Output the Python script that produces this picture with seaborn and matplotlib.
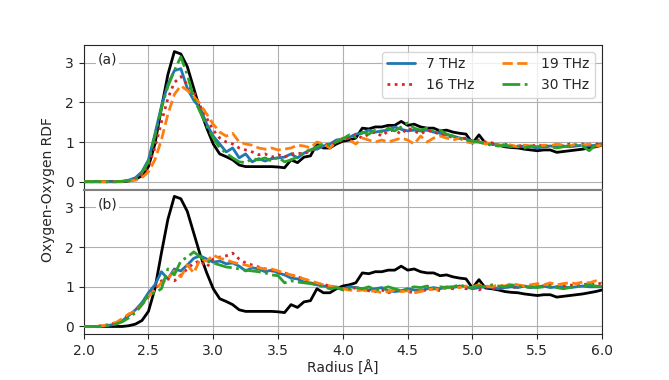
import numpy as np
import pandas as pd
import seaborn as sns
import matplotlib.pyplot as plt

# Radius grid (Angstrom), 0.05 step
radius = np.linspace(2.0, 6.0, 81)

series_names = ["7 THz", "16 THz", "19 THz", "30 THz"]

# reference RDF (black line, same in both panels)
rdf_ref = [
    0, 0, 0, 0, 0, 0, 0, 0.02, 0.06, 0.15,
    0.38, 0.95, 1.85, 2.7, 3.28, 3.22, 2.9, 2.35, 1.8, 1.35,
    0.95, 0.7, 0.63, 0.55, 0.42, 0.38, 0.38, 0.38, 0.38, 0.38,
    0.37, 0.35, 0.55, 0.48, 0.62, 0.65, 0.95, 0.85, 0.85, 0.95,
    1.02, 1.05, 1.1, 1.35, 1.33, 1.38, 1.38, 1.42, 1.42, 1.52,
    1.42, 1.45, 1.38, 1.35, 1.35, 1.28, 1.3, 1.25, 1.22, 1.2,
    0.97, 1.18, 0.97, 0.95, 0.92, 0.88, 0.86, 0.85, 0.82, 0.8,
    0.78, 0.8, 0.8, 0.74, 0.76, 0.78, 0.8, 0.82, 0.85, 0.88,
    0.92,
]

# panel (a)
a_7 = [
    0, 0, 0, 0, 0, 0, 0.01, 0.04, 0.1, 0.25,
    0.55, 1.2, 1.9, 2.45, 2.8, 2.85, 2.35, 2.05, 1.85, 1.45,
    1.15, 0.95, 0.75, 0.85, 0.6, 0.7, 0.5, 0.58, 0.52, 0.58,
    0.6, 0.62, 0.7, 0.6, 0.72, 0.8, 0.82, 0.9, 0.95, 1.05,
    1.08, 1.12, 1.2, 1.22, 1.3, 1.25, 1.28, 1.3, 1.38, 1.32,
    1.28, 1.3, 1.28, 1.3, 1.25, 1.22, 1.18, 1.15, 1.1, 1.08,
    1.02, 1.0, 0.98, 0.95, 0.92, 0.9, 0.9, 0.88, 0.9, 0.88,
    0.85, 0.88, 0.9, 0.88, 0.9, 0.88, 0.9, 0.92, 0.9, 0.92,
    0.95,
]
a_16 = [
    0, 0, 0, 0, 0, 0, 0.01, 0.03, 0.07, 0.18,
    0.4, 0.85, 1.5, 2.1, 2.5, 2.65, 2.45, 2.25, 1.9, 1.6,
    1.3, 1.1, 1.0, 0.95, 0.85, 0.8, 0.75, 0.68, 0.7, 0.62,
    0.68, 0.62, 0.7, 0.72, 0.7, 0.78, 0.85, 0.92, 0.95, 0.98,
    1.05, 1.1, 1.18, 1.1, 1.2, 1.25, 1.15, 1.28, 1.3, 1.2,
    1.35, 1.28, 1.2, 1.3, 1.25, 1.2, 1.15, 1.12, 1.08, 1.1,
    1.02, 1.05, 1.0, 0.98, 0.92, 0.95, 0.88, 0.9, 0.92, 0.88,
    0.95, 0.88, 0.9, 0.92, 0.9, 0.95, 0.92, 0.95, 0.92, 0.95,
    0.95,
]
a_19 = [
    0, 0, 0, 0, 0, 0, 0, 0.02, 0.04, 0.1,
    0.25, 0.55, 1.05, 1.7, 2.2, 2.42, 2.3, 2.15, 1.95, 1.7,
    1.45, 1.25, 1.15, 1.22, 1.0, 0.95, 0.92, 0.85, 0.82, 0.85,
    0.8, 0.82, 0.85, 0.92, 0.9, 0.85, 1.0, 0.95, 0.85, 1.0,
    1.1, 1.05, 0.95, 1.1, 1.05, 1.0, 1.05, 1.0, 1.05, 1.1,
    1.05, 0.95, 1.15, 1.0, 1.1, 1.15, 1.1, 1.05, 1.1, 1.0,
    0.98, 1.02, 0.95, 0.98, 0.9, 0.95, 0.92, 0.88, 0.92, 0.9,
    0.88, 0.92, 0.9, 0.95, 0.92, 0.9, 0.95, 0.92, 0.95, 0.9,
    0.92,
]
a_30 = [
    0, 0, 0, 0, 0, 0, 0.01, 0.03, 0.08, 0.22,
    0.5, 1.15, 1.85, 2.4, 2.8, 3.15, 2.7, 2.1, 1.75, 1.4,
    1.1, 0.85, 0.72, 0.6, 0.5, 0.48, 0.58, 0.55, 0.6, 0.52,
    0.62, 0.5, 0.55, 0.62, 0.75, 0.8, 0.88, 0.95, 0.92, 1.0,
    1.08, 1.18, 1.12, 1.25, 1.2, 1.3, 1.25, 1.35, 1.28, 1.38,
    1.48, 1.35, 1.3, 1.35, 1.28, 1.3, 1.2, 1.15, 1.1, 1.05,
    1.02, 1.0, 0.95, 0.92, 0.9, 0.92, 0.88, 0.9, 0.85, 0.9,
    0.88, 0.9, 0.88, 0.85, 0.88, 0.9, 0.92, 0.9, 0.78, 0.92,
    0.95,
]

# panel (b)
b_7 = [
    0, 0, 0, 0.01, 0.03, 0.07, 0.15, 0.28, 0.42, 0.6,
    0.85, 1.05, 1.38, 1.2, 1.45, 1.4, 1.55, 1.72, 1.78, 1.7,
    1.62, 1.65, 1.58, 1.6, 1.52, 1.4, 1.48, 1.45, 1.38, 1.42,
    1.35, 1.3, 1.22, 1.2, 1.12, 1.1, 1.05, 1.02, 1.0, 0.98,
    0.95, 1.0, 0.98, 0.95, 0.92, 0.95, 0.98, 0.9, 0.88, 0.9,
    0.95, 0.92, 0.9, 0.95, 0.98, 0.95, 1.0, 0.98, 1.02, 1.0,
    0.95, 0.98, 1.0, 0.98, 0.95, 0.98, 1.0, 0.98, 1.02, 0.98,
    1.0, 1.02, 0.98, 1.0, 1.0, 0.98, 1.0, 1.02, 1.0, 1.0,
    1.0,
]
b_16 = [
    0, 0, 0, 0.02, 0.05, 0.1, 0.18, 0.28, 0.4, 0.55,
    0.75, 0.95, 1.15, 1.2, 1.15, 1.3, 1.45, 1.6, 1.65, 1.5,
    1.7, 1.75, 1.78, 1.85, 1.7, 1.6, 1.55, 1.5, 1.45, 1.4,
    1.38, 1.35, 1.3, 1.25, 1.2, 1.1, 1.05, 1.08, 1.0, 0.98,
    0.95, 0.92, 0.98, 0.95, 0.9, 0.88, 0.92, 0.85, 0.9, 0.92,
    0.88, 0.85, 0.9, 0.92, 0.95, 0.9, 0.98, 0.95, 1.0, 0.95,
    0.98, 0.92, 1.0, 0.95, 0.98, 1.02, 0.98, 1.0, 1.02, 0.98,
    1.0, 1.02, 1.05, 1.0, 1.02, 1.05, 1.02, 1.05, 1.08, 1.05,
    1.1,
]
b_19 = [
    0, 0, 0, 0.02, 0.05, 0.1, 0.2, 0.32, 0.38, 0.55,
    0.75, 0.92, 1.1, 1.2, 1.4, 1.25, 1.55, 1.35, 1.7, 1.65,
    1.8, 1.72, 1.68, 1.62, 1.58, 1.55, 1.5, 1.48, 1.45, 1.45,
    1.4, 1.35, 1.3, 1.25, 1.2, 1.15, 1.1, 1.05, 1.02, 1.0,
    0.95, 0.92, 0.9, 0.92, 0.88, 0.9, 0.85, 0.88, 0.92, 0.88,
    0.9, 0.85, 0.88, 0.92, 0.95, 0.92, 0.98, 1.0, 0.98, 1.02,
    1.0, 1.05, 1.02, 1.0, 1.05, 1.02, 1.08, 1.05, 1.02, 1.05,
    1.08, 1.05, 1.1, 1.05, 1.08, 1.1, 1.08, 1.12, 1.1, 1.15,
    1.1,
]
b_30 = [
    0, 0, 0, 0.01, 0.03, 0.06, 0.12, 0.22, 0.35, 0.55,
    0.8, 0.85, 0.95, 1.45, 1.3, 1.65, 1.75, 1.88, 1.75, 1.65,
    1.6, 1.55, 1.5, 1.48, 1.45, 1.42, 1.4, 1.38, 1.35, 1.3,
    1.28, 1.1, 1.15, 1.12, 1.1, 1.08, 1.05, 1.0, 0.95, 0.98,
    0.92, 0.95, 0.98, 0.95, 1.0, 0.92, 0.95, 1.0, 0.95, 0.9,
    0.95, 1.0, 0.98, 1.02, 0.95, 1.0, 0.98, 1.0, 1.05, 1.0,
    0.98, 1.02, 1.0, 1.05, 1.02, 1.0, 1.05, 1.02, 0.98, 1.0,
    0.98, 1.0, 1.02, 0.98, 0.95, 0.98, 1.0, 1.02, 1.05, 1.02,
    1.0,
]

panel_a = [a_7, a_16, a_19, a_30]
panel_b = [b_7, b_16, b_19, b_30]

colors = ["#1f77b4", "#d62728", "#ff7f0e", "#2ca02c"]
dashes = ["", (1, 1.6), (3.7, 1.6), (6.4, 1.6, 1, 1.6)]


def long_form(values):
    frames = []
    for name, vals in zip(series_names, values):
        frames.append(pd.DataFrame({"radius": radius, "rdf": vals, "freq": name}))
    return pd.concat(frames, ignore_index=True)


def main():
    sns.set_style("ticks")
    plt.rcParams["font.family"] = ["DejaVu Sans"]

    fig, (ax_a, ax_b) = plt.subplots(2, 1, sharex=True, sharey=True, figsize=(6.69, 3.8), dpi=100)
    fig.subplots_adjust(left=0.125, right=0.9, bottom=0.12, top=0.882, hspace=0)

    for ax, values, tag, show_legend in [(ax_a, panel_a, "(a)", True), (ax_b, panel_b, "(b)", False)]:
        sns.lineplot(x=radius, y=rdf_ref, color="black", linewidth=2, ax=ax, zorder=2)
        sns.lineplot(
            data=long_form(values),
            x="radius",
            y="rdf",
            hue="freq",
            style="freq",
            palette=colors,
            dashes=dashes,
            linewidth=2,
            ax=ax,
            legend=show_legend,
            zorder=3,
        )
        ax.grid(True, color="#b0b0b0", linewidth=0.8)
        ax.set_axisbelow(True)
        ax.set_xlabel("")
        ax.set_ylabel("")
        ax.set_yticks([0, 1, 2, 3])
        ax.text(0.027, 0.9, tag, transform=ax.transAxes, fontsize=10, va="center",
                bbox=dict(facecolor="white", edgecolor="none", pad=1.5), zorder=4)

    ax_a.set_xlim(2.0, 6.0)
    ax_a.set_ylim(-0.2, 3.45)

    handles, labels = ax_a.get_legend_handles_labels()
    ax_a.legend(handles=handles, labels=labels, ncol=2, loc="upper right", framealpha=0.8)

    ax_a.spines["bottom"].set_color("gray")
    ax_a.spines["bottom"].set_linewidth(1.5)
    ax_b.spines["top"].set_color("gray")
    ax_b.spines["top"].set_linewidth(1.5)
    ax_a.tick_params(axis="x", length=0)

    ax_b.set_xlabel("Radius [Å]", labelpad=2)
    fig.text(0.072, 0.5, "Oxygen-Oxygen RDF", rotation=90, va="center", ha="center", fontsize=10)

    fig.savefig("out.png", dpi=100)
    plt.close(fig)


if __name__ == "__main__":
    main()
